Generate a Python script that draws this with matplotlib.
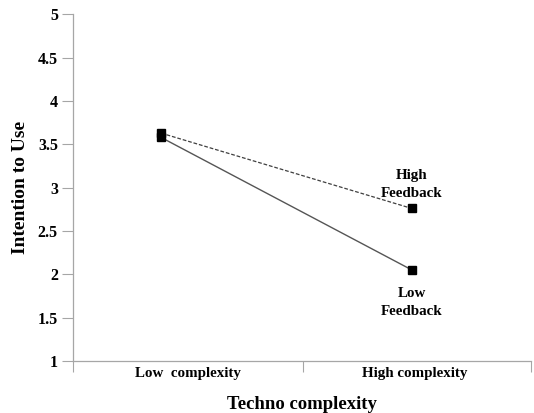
import matplotlib
matplotlib.use("Agg")
import matplotlib.pyplot as plt
import numpy as np

categories = ["Low  complexity", "High complexity"]
high_feedback = [3.63, 2.76]
low_feedback = [3.58, 2.05]
yticks = [1, 1.5, 2, 2.5, 3, 3.5, 4, 4.5, 5]
ytick_labels = ["1", "1.5", "2", "2.5", "3", "3.5", "4", "4.5", "5"]

plt.rcParams['font.family'] = ['Liberation Serif', 'DejaVu Serif']
plt.rcParams['font.weight'] = 'bold'

fig = plt.figure(figsize=(5.34, 4.13), dpi=100)
ax = fig.add_axes([0.137, 0.126, 0.857, 0.839])

x = np.arange(len(categories))
ax.plot(x, high_feedback, linestyle=(0, (3, 1.5)), color='#404040', lw=0.9,
        marker='s', markersize=6, mfc='black', mec='black', zorder=3)
ax.plot(x, low_feedback, linestyle='-', color='#555555', lw=1.0,
        marker='s', markersize=6, mfc='black', mec='black', zorder=3)

ax.annotate("High\nFeedback", (x[1], high_feedback[1]), xytext=(0, 6),
            textcoords='offset points', ha='center', va='bottom',
            fontsize=10.8, fontweight='bold', linespacing=1.55)
ax.annotate("Low\nFeedback", (x[1], low_feedback[1]), xytext=(0, -12),
            textcoords='offset points', ha='center', va='top',
            fontsize=10.8, fontweight='bold', linespacing=1.55)

ax.set_xlim(-0.351, 1.474)
ax.set_ylim(1, 5)
ax.set_yticks(yticks)
ax.set_yticklabels(ytick_labels, fontsize=11.5, fontweight='bold')
ax.tick_params(axis='y', length=8, width=0.8, color='#a6a6a6', pad=3)

# boundary ticks for the category axis, labels in between
ax.set_xticks([-0.351, 0.566, 1.474])
ax.set_xticklabels([])
ax.tick_params(axis='x', which='major', length=8, width=0.8, color='#a6a6a6')
ax.set_xticks([0.108, 1.012], minor=True)
ax.set_xticklabels(categories, minor=True, fontsize=10.8, fontweight='bold')
ax.tick_params(axis='x', which='minor', length=0, pad=4)

for s in ['top', 'right']:
    ax.spines[s].set_visible(False)
for s in ['left', 'bottom']:
    ax.spines[s].set_color('#a6a6a6')
    ax.spines[s].set_linewidth(0.9)

ax.set_ylabel("Intention to Use", fontsize=14, fontweight='bold', labelpad=6)
ax.set_xlabel("Techno complexity", fontsize=13.5, fontweight='bold', labelpad=12)

fig.savefig("out.png", dpi=100)
